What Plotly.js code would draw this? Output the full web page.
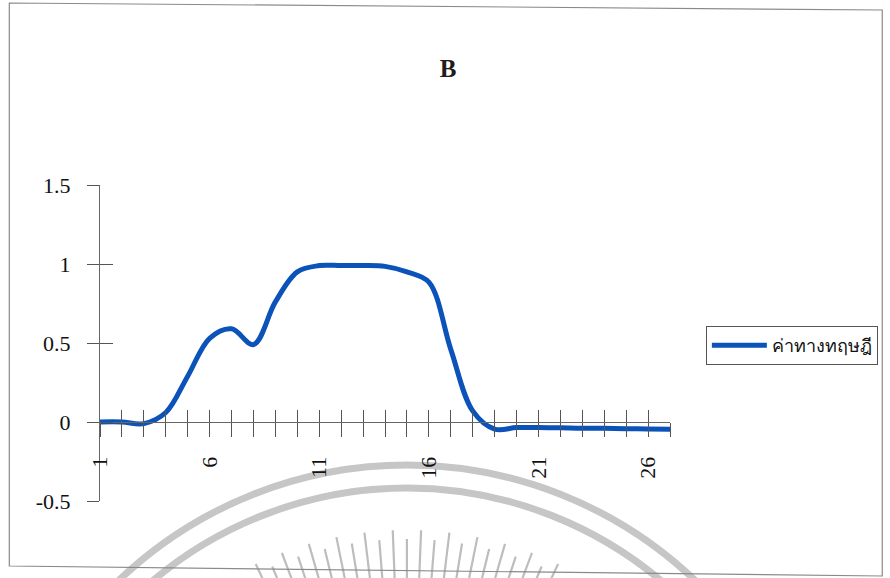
<!DOCTYPE html>
<html>
<head>
<meta charset="utf-8">
<script src="https://cdn.plot.ly/plotly-3.0.1.min.js"></script>
<style>
  html, body { margin: 0; padding: 0; background: #ffffff; }
  #chart { width: 890px; height: 578px; }
</style>
</head>
<body>
<div id="chart"></div>
<script>
// Categories (x) and the theoretical curve (y)
const categories = [1, 2, 3, 4, 5, 6, 7, 8, 9, 10, 11, 12, 13, 14, 15, 16, 17, 18, 19, 20, 21, 22, 23, 24, 25, 26, 27];
const theoretical = [0, 0, -0.01, 0.06, 0.29, 0.53, 0.59, 0.49, 0.76, 0.95, 0.99, 0.99, 0.99, 0.985, 0.95, 0.885, 0.46, 0.07, -0.045, -0.035, -0.035, -0.037, -0.04, -0.04, -0.042, -0.044, -0.046];
const seriesName = 'ค่าทางทฤษฎี';
const chartTitle = 'B';
const yTickVals = [-0.5, 0, 0.5, 1, 1.5];
const yTickText = ['-0.5', '0', '0.5', '1', '1.5'];
const xLabelStep = 5;

// plot frame in pixels
const W = 890, H = 578;
const ML = 100, MR = 218, MT = 185, MB = 77;
const PW = W - ML - MR, PH = H - MT - MB;
const px = x => (x - ML) / PW;
const py = y => (H - MB - y) / PH;

const xTickText = categories.map(c => ((c - 1) % xLabelStep === 0 ? String(c) : ''));
const yRange = [-0.5, 1.5];
const xRange = [categories[0], categories[categories.length - 1]];
const zeroPos = (0 - yRange[0]) / (yRange[1] - yRange[0]);

const serif = 'Liberation Serif, Times New Roman, serif';

const traces = [
  {
    x: categories, y: theoretical, type: 'scatter', mode: 'lines',
    name: seriesName,
    line: { color: '#0b52b9', width: 5, shape: 'spline', smoothing: 1 },
    hoverinfo: 'skip'
  },
  // carrier for the inner half of the crossing tick marks
  {
    x: categories, y: theoretical, xaxis: 'x2', yaxis: 'y2', type: 'scatter', mode: 'lines',
    line: { width: 0 }, opacity: 0, showlegend: false, hoverinfo: 'skip'
  }
];

// seal watermark: two arcs and a fan of rays
const shapes = [];
const sealCx = 408, sealCy = 885;
[420, 397].forEach(r => {
  shapes.push({
    type: 'circle', xref: 'paper', yref: 'paper', layer: 'below',
    x0: px(sealCx - r), x1: px(sealCx + r), y0: py(sealCy + r), y1: py(sealCy - r),
    line: { color: '#c6c6c6', width: 7 }
  });
});
let rayIdx = 0;
for (let a = -25.3; a <= 25.4; a += 2.3, rayIdx++) {
  const t = a * Math.PI / 180;
  const rOut = rayIdx % 2 === 0 ? 355 : 346;
  const rIn = 230;
  shapes.push({
    type: 'line', xref: 'paper', yref: 'paper', layer: 'below',
    x0: px(sealCx + rIn * Math.sin(t)), y0: py(sealCy - rIn * Math.cos(t)),
    x1: px(sealCx + rOut * Math.sin(t)), y1: py(sealCy - rOut * Math.cos(t)),
    line: { color: '#bdbdbd', width: 2.2 }
  });
}
// outer chart frame
shapes.push({
  type: 'path', xref: 'paper', yref: 'paper', layer: 'below',
  path: `M ${px(9)},${py(3)} L ${px(885)},${py(10)} L ${px(885)},${py(576)} L ${px(9)},${py(566)} Z`,
  line: { color: '#8a8a8a', width: 1.2 }
});

const axisCommon = {
  showgrid: false, zeroline: false, linecolor: '#666', linewidth: 1,
  tickcolor: '#555', tickwidth: 1
};

const layout = {
  width: W, height: H,
  margin: { l: ML, r: MR, t: MT, b: MB, pad: 0 },
  paper_bgcolor: '#ffffff', plot_bgcolor: 'rgba(0,0,0,0)',
  font: { family: serif, color: '#111' },
  title: {
    text: chartTitle, xref: 'container', yref: 'container',
    x: 448 / W, y: 1 - 68 / H, xanchor: 'center', yanchor: 'middle',
    font: { family: serif, size: 25, weight: 'bold', color: '#231a1a' }
  },
  xaxis: Object.assign({}, axisCommon, {
    range: xRange, anchor: 'free', position: zeroPos,
    tickmode: 'array', tickvals: categories, ticktext: xTickText,
    ticks: 'outside', ticklen: 14, tickangle: -90, ticklabelstandoff: 11,
    tickfont: { family: serif, size: 22, color: '#111' }, showline: true
  }),
  xaxis2: Object.assign({}, axisCommon, {
    range: xRange, overlaying: 'x', anchor: 'free', position: zeroPos,
    tickmode: 'array', tickvals: categories, ticks: 'inside', ticklen: 12,
    showticklabels: false, showline: false
  }),
  yaxis: Object.assign({}, axisCommon, {
    range: yRange, tickmode: 'array', tickvals: yTickVals, ticktext: yTickText,
    ticks: 'outside', ticklen: 12, ticklabelstandoff: 12, showline: true,
    tickfont: { family: serif, size: 22, color: '#111' }
  }),
  yaxis2: Object.assign({}, axisCommon, {
    range: yRange, overlaying: 'y', anchor: 'x2', side: 'left',
    tickmode: 'array', tickvals: yTickVals, ticks: 'inside', ticklen: 13,
    showticklabels: false, showline: false
  }),
  showlegend: true,
  legend: {
    x: px(708), xanchor: 'left', y: py(326), yanchor: 'top',
    bgcolor: '#ffffff', bordercolor: '#555', borderwidth: 1,
    font: { family: 'Liberation Serif, Noto Sans, serif', size: 18, color: '#111' },
    itemwidth: 55
  },
  shapes: shapes
};

Plotly.newPlot('chart', traces, layout, { displayModeBar: false, staticPlot: true });
</script>
</body>
</html>
